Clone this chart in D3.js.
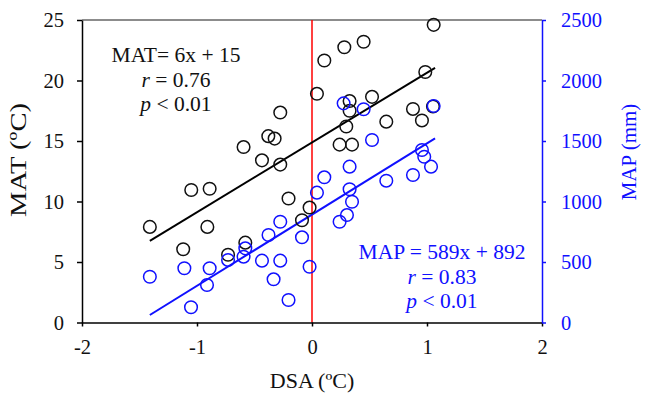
<!DOCTYPE html>
<html>
<head>
<meta charset="utf-8">
<script src="https://cdn.jsdelivr.net/npm/d3@7/dist/d3.min.js"></script>
<style>
  html, body { margin: 0; padding: 0; background: #fff; }
  svg { display: block; }
  text { font-family: "Liberation Serif", "Times New Roman", serif; }
</style>
</head>
<body>
<script>
// ---- data ----
const dsaMAT = [-1.41,-1.12,-1.05,-0.91,-0.89,-0.73,-0.58,-0.595,-0.435,-0.38,-0.325,-0.276,-0.276,-0.204,-0.087,-0.021,
                0.043,0.107,0.24,0.281,0.298,0.327,0.327,0.348,0.449,0.522,0.646,0.878,0.956,0.985,1.052,1.058];
const matValues = [7.9,6.05,10.95,7.9,11.05,5.6,6.6,14.5,13.4,15.4,15.2,17.35,13.05,10.25,8.45,9.5,
                   18.9,21.65,14.7,22.75,16.2,18.3,17.5,14.7,23.2,18.65,16.6,17.65,16.7,20.7,17.85,24.6];
const dsaMAP = [-1.41,-1.11,-1.052,-0.913,-0.89,-0.73,-0.58,-0.595,-0.435,-0.378,-0.334,-0.276,-0.276,-0.204,-0.087,-0.021,
                0.043,0.107,0.24,0.275,0.304,0.327,0.327,0.348,0.449,0.522,0.646,0.878,0.956,0.976,1.035,1.058];
const mapValues = [378,448,126,310,448,517,613,544,511,723,357,833,511,186,704,461,
                   1073,1200,833,1811,888,1288,1101,998,1762,1508,1172,1219,1426,1370,1288,1789];
const matFitLine = [[-1.41, 6.75], [1.07, 21.05]];
const mapFitLine = [[-1.41, 62], [1.07, 1522]];
const xTicks = [-2,-1,0,1,2];
const matTicks = [0,5,10,15,20,25];
const mapTicks = [0,500,1000,1500,2000,2500];
const matText = ["MAT= 6x + 15", "0.76", "0.01"];
const mapText = ["MAP = 589x + 892", "0.83", "0.01"];

const W = 646, H = 393;
const BLUE = "#1010ff";
const svg = d3.select("body").append("svg").attr("width", W).attr("height", H);

const x = d3.scaleLinear().domain([-2, 2]).range([82, 542]);
const yL = d3.scaleLinear().domain([0, 25]).range([322.5, 20]);
const yR = d3.scaleLinear().domain([0, 2500]).range([322.5, 20]);
const fmt = d => String(d);

// top frame line
svg.append("line").attr("x1", x(-2)).attr("x2", x(2)).attr("y1", yL(25)).attr("y2", yL(25))
  .attr("stroke", "#666").attr("stroke-width", 1.5);

// red zero line
svg.append("line").attr("x1", x(0)).attr("x2", x(0)).attr("y1", yL(25)).attr("y2", yL(0))
  .attr("stroke", "#ff0000").attr("stroke-width", 1.5);

// axes
const fs = "20.5px";
const gx = svg.append("g").attr("transform", `translate(0,${yL(0)})`)
  .call(d3.axisBottom(x).tickValues(xTicks).tickFormat(fmt).tickSize(4).tickPadding(13).tickSizeOuter(0));
const gl = svg.append("g").attr("transform", `translate(${x(-2)},0)`)
  .call(d3.axisLeft(yL).tickValues(matTicks).tickFormat(fmt).tickSize(5).tickPadding(13).tickSizeOuter(0));
const gr = svg.append("g").attr("transform", `translate(${x(2)},0)`)
  .call(d3.axisRight(yR).tickValues(mapTicks).tickFormat(fmt).tickSize(4).tickPadding(15).tickSizeOuter(0));
[gx, gl, gr].forEach(g => {
  g.attr("font-family", null);
  g.selectAll("text").style("font-size", fs);
  g.selectAll("path,line").attr("stroke-width", 1.5);
});
gx.selectAll("path,line").attr("stroke", "#000");
gx.selectAll("text").attr("fill", "#111");
gl.selectAll("path,line").attr("stroke", "#000");
gl.selectAll("text").attr("fill", "#111");
gr.selectAll("path,line").attr("stroke", BLUE);
gr.selectAll("text").attr("fill", BLUE);

// axis titles
svg.append("text").attr("x", x(0)).attr("y", 388).attr("text-anchor", "middle")
  .style("font-size", "22px").attr("fill", "#111").text("DSA (ºC)");
svg.append("text").attr("transform", `translate(26,160) rotate(-90)`)
  .attr("text-anchor", "middle").style("font-size", "23px").attr("fill", "#111")
  .attr("textLength", 114).attr("lengthAdjust", "spacingAndGlyphs").text("MAT (ºC)");
svg.append("text").attr("transform", `translate(636,152) rotate(-90)`)
  .attr("text-anchor", "middle").style("font-size", "21px").attr("fill", BLUE).text("MAP (mm)");

// regression lines
const lineL = d3.line().x(d => x(d[0])).y(d => yL(d[1]));
const lineR = d3.line().x(d => x(d[0])).y(d => yR(d[1]));
svg.append("path").attr("d", lineL(matFitLine)).attr("stroke", "#000").attr("stroke-width", 2).attr("fill", "none");
svg.append("path").attr("d", lineR(mapFitLine)).attr("stroke", BLUE).attr("stroke-width", 2).attr("fill", "none");

// points
svg.append("g").selectAll("circle").data(matValues).join("circle")
  .attr("cx", (d, i) => x(dsaMAT[i])).attr("cy", d => yL(d)).attr("r", 6.3)
  .attr("fill", "none").attr("stroke", "#111").attr("stroke-width", 1.5);
svg.append("g").selectAll("circle").data(mapValues).join("circle")
  .attr("cx", (d, i) => x(dsaMAP[i])).attr("cy", d => yR(d)).attr("r", 6.3)
  .attr("fill", "none").attr("stroke", BLUE).attr("stroke-width", 1.5);

// annotations
function annot(cx, y0, lines, color) {
  const t1 = svg.append("text").attr("x", cx).attr("y", y0).attr("text-anchor", "middle")
    .style("font-size", "21.5px").attr("fill", color).text(lines[0]);
  const t2 = svg.append("text").attr("x", cx).attr("y", y0 + 24.5).attr("text-anchor", "middle")
    .style("font-size", "21.5px").attr("fill", color);
  t2.append("tspan").attr("font-style", "italic").text("r");
  t2.append("tspan").text(" = " + lines[1]);
  const t3 = svg.append("text").attr("x", cx).attr("y", y0 + 49).attr("text-anchor", "middle")
    .style("font-size", "21.5px").attr("fill", color);
  t3.append("tspan").attr("font-style", "italic").text("p");
  t3.append("tspan").text(" < " + lines[2]);
}
annot(176, 62, matText, "#111");
annot(442, 259, mapText, BLUE);
</script>
</body>
</html>
